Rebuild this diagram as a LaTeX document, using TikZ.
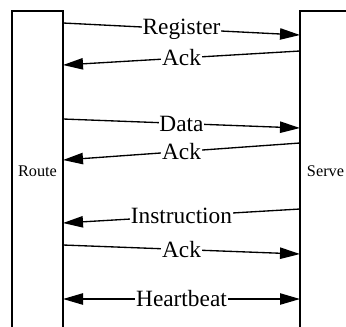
\documentclass[tikz,border=0pt]{standalone}
\usepackage{fontspec}
\setmainfont{Liberation Serif}
\usetikzlibrary{arrows.meta}
\begin{document}
\begin{tikzpicture}[x=0.75pt,y=-0.75pt,
  party/.style={draw, line width=1.1pt, minimum width=38.25pt, minimum height=240pt,
    inner sep=0pt, font=\fontsize{12.2}{14}\selectfont},
  msg/.style={line width=1pt, -{Triangle[length=15pt,width=8.5pt]}},
  both/.style={line width=1pt, {Triangle[length=15pt,width=8.5pt]}-{Triangle[length=15pt,width=8.5pt]}},
  lbl/.style={midway, fill=white, inner sep=0.6pt, font=\fontsize{17.5}{19}\selectfont}]
  \useasboundingbox (0,0) rectangle (346,326);
  \clip (0,0) rectangle (346,326);
  % the two parties, boxes running off the bottom
  \node[party] (router) at (37.5,171) {Route};
  \node[party] (server) at (325.5,171) {Serve};
  % message end points on the box edges
  \coordinate (r1) at (63,23);   \coordinate (s1) at (300,35);
  \coordinate (s2) at (300,51);  \coordinate (r2) at (63,65);
  \coordinate (r3) at (63,119);  \coordinate (s3) at (300,128);
  \coordinate (s4) at (300,143); \coordinate (r4) at (63,160);
  \coordinate (s5) at (300,209); \coordinate (r5) at (63,223);
  \coordinate (r6) at (63,245);  \coordinate (s6) at (300,254);
  \coordinate (r7) at (63,299);  \coordinate (s7) at (300,299);
  % messages
  \draw[msg] (r1) -- (s1) node[lbl] {Register};
  \draw[msg] (s2) -- (r2) node[lbl] {Ack};
  \draw[msg] (r3) -- (s3) node[lbl] {Data};
  \draw[msg] (s4) -- (r4) node[lbl] {Ack};
  \draw[msg] (s5) -- (r5) node[lbl] {Instruction};
  \draw[msg] (r6) -- (s6) node[lbl] {Ack};
  \draw[both] (r7) -- (s7) node[lbl] {Heartbeat};
\end{tikzpicture}
\end{document}
